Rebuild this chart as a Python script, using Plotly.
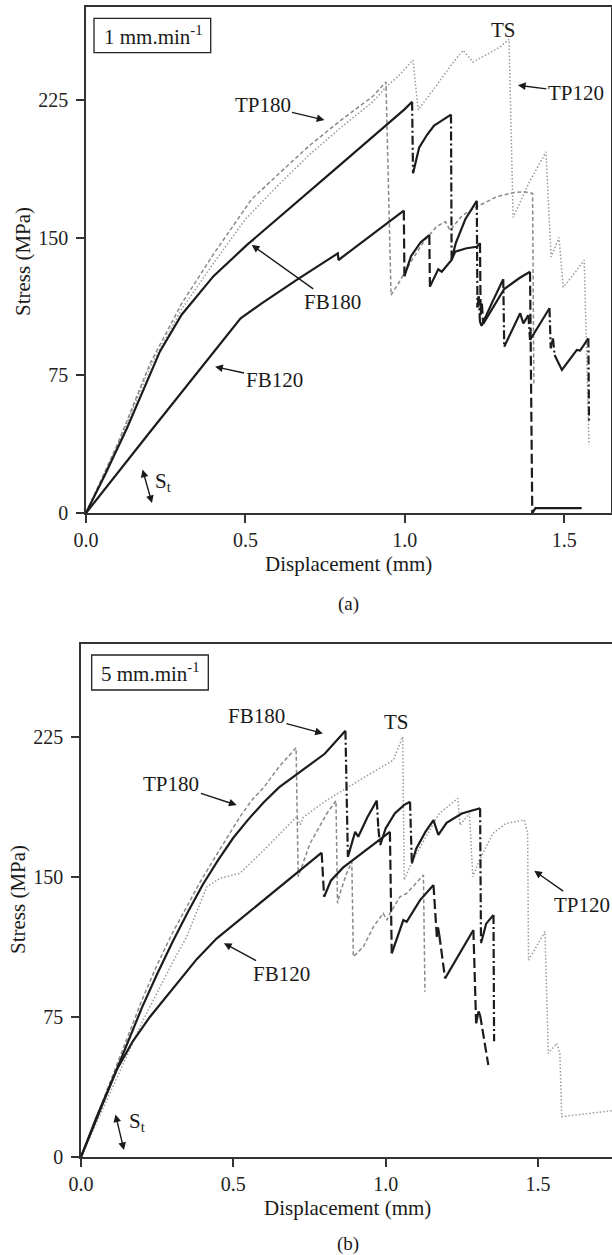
import plotly.graph_objects as go

# ---------------- Panel (a): 1 mm/min ----------------
fb180_a_x = [0, 0.06, 0.128, 0.18, 0.232, 0.3, 0.4, 0.505, 0.6, 0.7, 0.78, 0.8, 0.9, 1.0, 1.023, 1.026, 1.045, 1.07, 1.092, 1.11, 1.145, 1.147, 1.16, 1.19, 1.226, 1.228, 1.232, 1.236, 1.241, 1.275, 1.309, 1.312, 1.362, 1.372, 1.388, 1.393, 1.454, 1.458, 1.465, 1.47, 1.493, 1.54, 1.55, 1.576, 1.578]
fb180_a_y = [0, 21, 46, 67, 88, 108, 129, 146, 160, 175, 187, 190, 205, 220, 224, 185, 199, 206, 211, 213, 217, 138, 147, 160, 170, 112, 118, 104, 102, 115, 127.3, 90.6, 108.8, 103.3, 107.8, 94.2, 111.5, 89.7, 95, 86, 77.9, 88.8, 88.5, 95.1, 50]

fb120_a_x = [0, 0.2, 0.485, 0.55, 0.661, 0.79, 0.792, 0.9, 0.997, 0.999, 1.02, 1.05, 1.077, 1.079, 1.105, 1.116, 1.147, 1.158, 1.194, 1.226, 1.236, 1.238, 1.242, 1.246, 1.28, 1.312, 1.336, 1.36, 1.393, 1.40, 1.41, 1.555]
fb120_a_y = [0, 44, 106, 114, 127, 141.4, 137.8, 152, 164.7, 129, 140, 147.5, 151.4, 123.3, 132.7, 131.4, 137.8, 142.3, 144.2, 145, 147, 108, 114, 103, 113, 122, 125, 128, 131.4, 0, 2.7, 2.7]

tp180_a_x = [0, 0.1, 0.2, 0.3, 0.4, 0.5, 0.52, 0.6, 0.7, 0.8, 0.9, 0.941, 0.957, 0.98, 1.02, 1.06, 1.1, 1.127, 1.142, 1.18, 1.226, 1.289, 1.34, 1.372, 1.401, 1.405]
tp180_a_y = [0, 38, 81, 114, 141, 166, 171, 184, 200, 214, 227, 234.7, 118.7, 125, 137, 148, 156, 158.7, 154, 162, 166.8, 172.3, 174.5, 175, 174.1, 70]

tp120_a_x = [0, 0.1, 0.2, 0.3, 0.4, 0.5, 0.6, 0.7, 0.8, 0.9, 0.941, 0.98, 1.026, 1.042, 1.1, 1.15, 1.183, 1.214, 1.26, 1.3, 1.327, 1.340, 1.39, 1.443, 1.459, 1.484, 1.497, 1.53, 1.563, 1.578]
tp120_a_y = [0, 37, 79, 111, 136, 160, 178, 195, 210, 224, 232, 238, 246.7, 219.5, 233, 245, 252, 245.6, 250, 254, 258, 161, 180, 196.7, 139.5, 150, 123, 130, 137.8, 37]

# ---------------- Panel (b): 5 mm/min ----------------
fb180_b_x = [0, 0.05, 0.1, 0.15, 0.2, 0.25, 0.3, 0.35, 0.4, 0.45, 0.5, 0.55, 0.6, 0.65, 0.7, 0.741, 0.8, 0.868, 0.876, 0.9, 0.91, 0.94, 0.971, 0.976, 0.982, 1.0, 1.03, 1.06, 1.08, 1.086, 1.1, 1.13, 1.157, 1.173, 1.2, 1.25, 1.288, 1.31, 1.313, 1.33, 1.354, 1.356]
fb180_b_y = [0, 20, 41, 61, 80, 98, 115, 131, 146, 159, 171, 181, 190, 198, 204, 209, 216, 228.3, 160.8, 174.2, 171.6, 182, 190.9, 176, 167, 176, 184, 188.5, 190.3, 157.3, 165, 174, 180.5, 172.5, 179, 184, 185.9, 186.8, 114.5, 125, 129.6, 62]

fb120_b_x = [0, 0.05, 0.117, 0.17, 0.226, 0.28, 0.325, 0.38, 0.445, 0.52, 0.588, 0.65, 0.708, 0.79, 0.798, 0.82, 0.86, 0.9, 0.95, 0.99, 1.014, 1.02, 1.058, 1.069, 1.113, 1.157, 1.168, 1.172, 1.176, 1.195, 1.288, 1.297, 1.305, 1.31, 1.337]
fb120_b_y = [0, 21, 46.6, 62, 75, 86, 95, 106, 117, 127, 136, 144, 152, 163, 139.4, 148, 155, 160, 166, 171, 174.2, 109.1, 126.9, 126, 137.6, 145.7, 118, 123, 119, 95.7, 121.6, 71.6, 78, 76, 49.3]

tp180_b_x = [0, 0.1, 0.2, 0.25, 0.3, 0.347, 0.39, 0.434, 0.48, 0.522, 0.56, 0.6, 0.65, 0.706, 0.713, 0.752, 0.807, 0.837, 0.842, 0.85, 0.872, 0.889, 0.894, 0.91, 0.927, 0.96, 0.982, 0.992, 1.004, 1.014, 1.047, 1.069, 1.124, 1.129]
tp180_b_y = [0, 42, 84, 103, 120, 134, 147, 159, 171, 182.3, 191, 198, 209, 219.2, 150.1, 168, 184, 190.9, 135.9, 141.2, 152, 158.2, 107.3, 110, 112.6, 123.4, 128.7, 130.5, 126.9, 130.5, 139.4, 141.2, 151, 88.5]

tp120_b_x = [0, 0.1, 0.2, 0.3, 0.347, 0.413, 0.456, 0.522, 0.61, 0.708, 0.72, 0.73, 0.807, 0.916, 1.025, 1.056, 1.061, 1.089, 1.133, 1.176, 1.237, 1.244, 1.275, 1.286, 1.308, 1.352, 1.395, 1.455, 1.466, 1.469, 1.523, 1.534, 1.562, 1.572, 1.578, 1.742]
tp120_b_y = [0, 36, 72, 104, 118, 144.8, 149.3, 152, 166, 182.3, 178, 182, 191.2, 202, 212.6, 225.1, 148.4, 159, 171.6, 184, 192.1, 177.8, 184, 150.1, 159, 173.4, 178.7, 180.5, 173.4, 105.5, 120.7, 55.5, 60.9, 55, 21.6, 24.8]

x_ticks = [0, 0.5, 1.0, 1.5]
x_ticktext = ["0.0", "0.5", "1.0", "1.5"]
y_ticks = [0, 75, 150, 225]
y_ticktext = ["0", "75", "150", "225"]

FONT = "Liberation Serif, Times New Roman, serif"
BLACK = "#1c1c1c"
W, H = 612, 1255


def split_runs(xs, ys):
    """Split a curve into rising (solid) runs and sudden load-drop segments."""
    solid_x, solid_y, drop_x, drop_y = [], [], [], []
    cur_x, cur_y = [xs[0]], [ys[0]]
    for i in range(len(xs) - 1):
        x0, y0, x1, y1 = xs[i], ys[i], xs[i + 1], ys[i + 1]
        dy = y0 - y1
        is_drop = dy > 5 and dy / max(x1 - x0, 1e-9) > 800
        if is_drop:
            if len(cur_x) > 1:
                solid_x += cur_x + [None]
                solid_y += cur_y + [None]
            drop_x += [x0, x1, None]
            drop_y += [y0, y1, None]
            cur_x, cur_y = [x1], [y1]
        else:
            cur_x.append(x1)
            cur_y.append(y1)
    if len(cur_x) > 1:
        solid_x += cur_x
        solid_y += cur_y
    return solid_x, solid_y, drop_x, drop_y


fig = go.Figure()


def add_black(xs, ys, drop_dash, xa, ya):
    sx, sy, dx, dy = split_runs(xs, ys)
    fig.add_trace(go.Scatter(x=dx, y=dy, mode="lines", xaxis=xa, yaxis=ya,
                             line=dict(color=BLACK, width=2.2, dash=drop_dash),
                             hoverinfo="skip", showlegend=False))
    fig.add_trace(go.Scatter(x=sx, y=sy, mode="lines", xaxis=xa, yaxis=ya,
                             line=dict(color=BLACK, width=2.2),
                             hoverinfo="skip", showlegend=False))


def add_gray(xs, ys, dash, color, xa, ya):
    fig.add_trace(go.Scatter(x=xs, y=ys, mode="lines", xaxis=xa, yaxis=ya,
                             line=dict(color=color, width=1.5, dash=dash),
                             hoverinfo="skip", showlegend=False))


DASHDOT = "9px,3px,2px,3px"
LONGDASH = "10px,4px"
GRAYDASH = "4px,2.5px"
GRAYDOT = "1.5px,2px"

for panel in ("a", "b"):
    xa, ya = ("x", "y") if panel == "a" else ("x2", "y2")
    d = globals()
    add_gray(d[f"tp120_{panel}_x"], d[f"tp120_{panel}_y"], GRAYDOT, "#9a9a9a", xa, ya)
    add_gray(d[f"tp180_{panel}_x"], d[f"tp180_{panel}_y"], GRAYDASH, "#8a8a8a", xa, ya)
    add_black(d[f"fb120_{panel}_x"], d[f"fb120_{panel}_y"], LONGDASH, xa, ya)
    add_black(d[f"fb180_{panel}_x"], d[f"fb180_{panel}_y"], DASHDOT, xa, ya)

axis_common = dict(showgrid=False, zeroline=False, showline=True, linecolor="#333",
                   linewidth=1.5, ticks="outside", ticklen=8, tickwidth=1.5, tickcolor="#333",
                   automargin=False,
                   tickfont=dict(family=FONT, size=20, color="#222"))

fig.update_layout(
    width=W, height=H, margin=dict(l=0, r=0, t=0, b=0, autoexpand=False),
    paper_bgcolor="white", plot_bgcolor="white", showlegend=False,
    xaxis=dict(domain=[86 / W, 611 / W], range=[0, 1.647], anchor="y", mirror=True,
               tickvals=x_ticks, ticktext=x_ticktext, **axis_common),
    yaxis=dict(domain=[1 - 513 / H, 1 - 7 / H], range=[0, 275.6], anchor="x", mirror=True,
               tickvals=y_ticks, ticktext=y_ticktext, ticklabelstandoff=4, **axis_common),
    xaxis2=dict(domain=[81 / W, 1.0], range=[0, 1.743], anchor="y2", mirror=True,
                tickvals=x_ticks, ticktext=x_ticktext, **axis_common),
    yaxis2=dict(domain=[1 - 1157 / H, 1 - 644 / H], range=[0, 274.8], anchor="x2", mirror=False,
                tickvals=y_ticks, ticktext=y_ticktext, ticklabelstandoff=4, **axis_common),
)

annots = []
TF = dict(family=FONT, size=21, color="#1a1a1a")


def label(text, x, y, xa, ya, hx=None, hy=None):
    if hx is None:
        annots.append(dict(text=text, x=x, y=y, xref=xa, yref=ya, showarrow=False, font=TF,
                           xanchor="center", yanchor="middle"))
    else:
        annots.append(dict(text=text, x=hx, y=hy, ax=x, ay=y, xref=xa, yref=ya,
                           axref=xa, ayref=ya, showarrow=True, arrowhead=2, arrowsize=1.1,
                           arrowwidth=1.4, arrowcolor="#1a1a1a", standoff=0, font=TF,
                           xanchor="center", yanchor="middle"))


def st_arrow(x0, y0, x1, y1, tx, ty, xa, ya):
    annots.append(dict(text="", x=x1, y=y1, ax=x0, ay=y0, xref=xa, yref=ya,
                       axref=xa, ayref=ya, showarrow=True, arrowhead=2, arrowside="end+start",
                       arrowsize=1.1, arrowwidth=1.4, arrowcolor="#1a1a1a", standoff=0,
                       startstandoff=0))
    annots.append(dict(text="S<sub>t</sub>", x=tx, y=ty, xref=xa, yref=ya,
                       showarrow=False, font=TF, xanchor="center", yanchor="middle"))


# panel (a) labels
label("TP180", 0.554, 222, "x", "y", 0.748, 214)
label("TS", 1.31, 263.3, "x", "y")
label("TP120", 1.537, 229, "x", "y", 1.355, 233)
label("FB180", 0.772, 114.7, "x", "y", 0.52, 146)
label("FB120", 0.59, 72.7, "x", "y", 0.405, 79.7)
st_arrow(0.176, 24.5, 0.207, 5.4, 0.242, 16.9, "x", "y")

# panel (b) labels
label("FB180", 0.576, 236.5, "x2", "y2", 0.794, 226.9)
label("TP180", 0.297, 200, "x2", "y2", 0.511, 188.5)
label("TS", 1.037, 233, "x2", "y2")
label("TP120", 1.646, 135.2, "x2", "y2", 1.488, 153.3)
label("FB120", 0.657, 98, "x2", "y2", 0.469, 114.5)
st_arrow(0.112, 23.6, 0.141, 3.7, 0.184, 18.7, "x2", "y2")


def ptext(text, px, py, size=21, angle=0):
    annots.append(dict(text=text, x=px / W, y=1 - py / H, xref="paper", yref="paper",
                       showarrow=False, textangle=angle, xanchor="center", yanchor="middle",
                       font=dict(family=FONT, size=size, color="#1a1a1a")))


ptext("1 mm.min<sup>-1</sup>", 153, 36)
ptext("5 mm.min<sup>-1</sup>", 150, 672.5)
ptext("Displacement (mm)", 348, 564)
ptext("(a)", 348, 604, size=19)
ptext("Stress (MPa)", 23, 262, angle=-90)
ptext("Displacement (mm)", 347, 1208)
ptext("(b)", 348, 1244, size=19)
ptext("Stress (MPa)", 18, 900, angle=-90)

fig.update_layout(annotations=annots)

shapes = []
for (x0, y0, x1, y1) in [(94, 18.3, 210.7, 52.7), (91.7, 655, 208.3, 690)]:
    shapes.append(dict(type="rect", xref="paper", yref="paper",
                       x0=x0 / W, x1=x1 / W, y0=1 - y1 / H, y1=1 - y0 / H,
                       line=dict(color="#222", width=1.3)))
fig.update_layout(shapes=shapes)

fig.write_html("out.html")
